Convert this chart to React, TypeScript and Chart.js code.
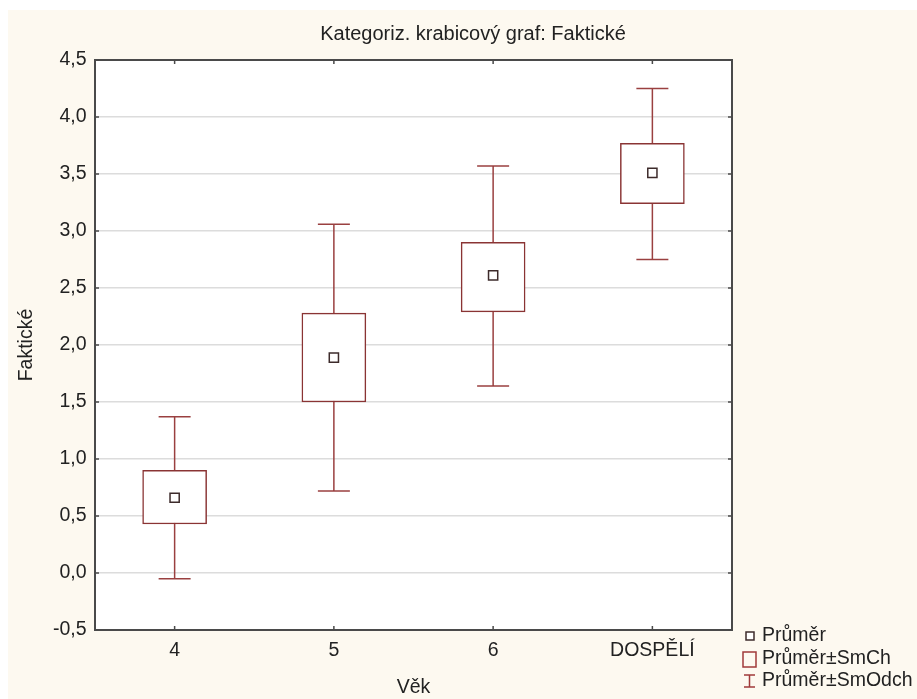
import React, { useEffect, useRef } from 'react';
import { Chart, registerables } from 'chart.js';

Chart.register(...registerables);

// ---- data ----
const categories = ['4', '5', '6', 'DOSPĚLÍ'];
const means = [0.66, 1.89, 2.61, 3.51];
const seLow = [0.43, 1.5, 2.29, 3.24];
const seHigh = [0.9, 2.28, 2.9, 3.77];
const sdLow = [-0.05, 0.72, 1.64, 2.75];
const sdHigh = [1.37, 3.06, 3.57, 4.25];
const legendLabels = ['Průměr', 'Průměr±SmCh', 'Průměr±SmOdch'];
const titleText = 'Kategoriz. krabicový graf: Faktické';
const xTitle = 'Věk';
const yTitle = 'Faktické';
const yMin = -0.5;
const yMax = 4.5;
const yStep = 0.5;

// ---- styles ----
const FAMILY = '"Liberation Sans", Arial, sans-serif';
const FONT_SIZE = 19.5;
const TEXT = '#222222';
const CREAM = '#fdf9f0';
const BOX = '#8a3434';
const WHISKER = '#9a4040';
const MEAN = '#3d2b2b';
const FRAME = '#4a4a4a';

const W = 909;
const H = 689;

const statPlugin = {
  id: 'statPlot',
  beforeDraw(chart: any) {
    const { ctx, chartArea: a, width, height } = chart;
    ctx.save();
    ctx.fillStyle = CREAM;
    ctx.fillRect(0, 0, width, height);
    ctx.fillStyle = '#ffffff';
    ctx.fillRect(a.left, a.top, a.right - a.left, a.bottom - a.top);
    ctx.restore();
  },
  beforeDatasetsDraw(chart: any) {
    const { ctx, scales } = chart;
    const xs = scales.x;
    const ys = scales.y;
    ctx.save();
    ctx.strokeStyle = WHISKER;
    ctx.lineWidth = 1.5;
    categories.forEach((_, i) => {
      const x = xs.getPixelForValue(i);
      const yl = ys.getPixelForValue(sdLow[i]);
      const yh = ys.getPixelForValue(sdHigh[i]);
      ctx.beginPath();
      ctx.moveTo(x, yl);
      ctx.lineTo(x, yh);
      ctx.moveTo(x - 16, yl);
      ctx.lineTo(x + 16, yl);
      ctx.moveTo(x - 16, yh);
      ctx.lineTo(x + 16, yh);
      ctx.stroke();
    });
    ctx.restore();
  },
  afterDatasetsDraw(chart: any) {
    const { ctx, chartArea: a, scales } = chart;
    ctx.save();
    ctx.strokeStyle = FRAME;
    ctx.lineWidth = 2;
    ctx.strokeRect(a.left, a.top, a.right - a.left, a.bottom - a.top);
    ctx.lineWidth = 1.5;
    ctx.beginPath();
    scales.y.ticks.forEach((t: any) => {
      const y = scales.y.getPixelForValue(t.value);
      ctx.moveTo(a.left, y);
      ctx.lineTo(a.left + 4, y);
      ctx.moveTo(a.right - 4, y);
      ctx.lineTo(a.right, y);
    });
    categories.forEach((_, i) => {
      const x = scales.x.getPixelForValue(i);
      ctx.moveTo(x, a.top);
      ctx.lineTo(x, a.top + 4);
      ctx.moveTo(x, a.bottom - 4);
      ctx.lineTo(x, a.bottom);
    });
    ctx.stroke();
    ctx.restore();
  },
  afterDraw(chart: any) {
    const { ctx } = chart;
    ctx.save();
    // title
    ctx.fillStyle = TEXT;
    ctx.font = `20px ${FAMILY}`;
    ctx.textAlign = 'center';
    ctx.textBaseline = 'middle';
    ctx.fillText(titleText, 465, 24);

    // legend
    const tx = 754;
    const rows = [626, 649, 671];
    ctx.font = `${FONT_SIZE}px ${FAMILY}`;
    ctx.textAlign = 'left';
    ctx.lineWidth = 1.5;
    // mean marker
    ctx.strokeStyle = MEAN;
    ctx.fillStyle = '#ffffff';
    ctx.fillRect(738, rows[0] - 4, 8, 8);
    ctx.strokeRect(738, rows[0] - 4, 8, 8);
    // SE box
    ctx.strokeStyle = '#a03a3a';
    ctx.strokeRect(735, rows[1] - 7, 13, 15);
    // SD I-beam
    ctx.beginPath();
    ctx.moveTo(741.5, rows[2] - 6);
    ctx.lineTo(741.5, rows[2] + 6);
    ctx.moveTo(736, rows[2] - 6);
    ctx.lineTo(747, rows[2] - 6);
    ctx.moveTo(736, rows[2] + 6);
    ctx.lineTo(747, rows[2] + 6);
    ctx.stroke();
    ctx.fillStyle = TEXT;
    legendLabels.forEach((l, i) => ctx.fillText(l, tx, rows[i]));
    ctx.restore();
  },
};

export default function App() {
  const ref = useRef<HTMLCanvasElement | null>(null);

  useEffect(() => {
    if (!ref.current) return;
    const font = { family: FAMILY, size: FONT_SIZE };
    const chart = new Chart(ref.current, {
      type: 'bar',
      data: {
        labels: categories,
        datasets: [
          {
            type: 'line',
            label: legendLabels[0],
            data: means,
            showLine: false,
            pointStyle: 'rect',
            pointRadius: 6.5,
            pointBackgroundColor: '#ffffff',
            pointBorderColor: MEAN,
            pointBorderWidth: 1.5,
            order: 1,
          } as any,
          {
            type: 'bar',
            label: legendLabels[1],
            data: categories.map((_, i) => [seLow[i], seHigh[i]]),
            backgroundColor: '#ffffff',
            borderColor: BOX,
            borderWidth: 1.5,
            borderSkipped: false,
            barThickness: 64,
            order: 2,
          } as any,
        ],
      },
      options: {
        responsive: false,
        maintainAspectRatio: false,
        animation: false,
        devicePixelRatio: 1,
        layout: { padding: { top: 50, right: 185, bottom: 0, left: 0 } },
        plugins: {
          legend: { display: false },
          title: { display: false },
          tooltip: { enabled: false },
        },
        scales: {
          x: {
            type: 'category',
            offset: true,
            grid: { display: false, drawTicks: false },
            border: { display: false },
            ticks: { padding: 9, font, color: TEXT },
            title: { display: true, text: xTitle, font, color: TEXT, padding: { top: 0, bottom: 0 } },
            afterFit(s: any) {
              s.height = 69;
            },
          },
          y: {
            type: 'linear',
            min: yMin,
            max: yMax,
            ticks: {
              stepSize: yStep,
              padding: 8.5,
              font,
              color: TEXT,
              callback: (v: any) => Number(v).toFixed(1).replace('.', ','),
            },
            grid: { color: '#dcdcdc', lineWidth: 1.5, drawTicks: false },
            border: { display: false },
            title: { display: true, text: yTitle, font, color: TEXT, padding: { top: 7, bottom: 0 } },
            afterFit(s: any) {
              s.width = 87;
            },
          },
        },
      } as any,
      plugins: [statPlugin],
    });
    return () => chart.destroy();
  }, []);

  return (
    <div style={{ position: 'fixed', left: 8, top: 10, width: W, height: H }}>
      <canvas ref={ref} width={W} height={H} style={{ display: 'block', width: W, height: H }} />
    </div>
  );
}
